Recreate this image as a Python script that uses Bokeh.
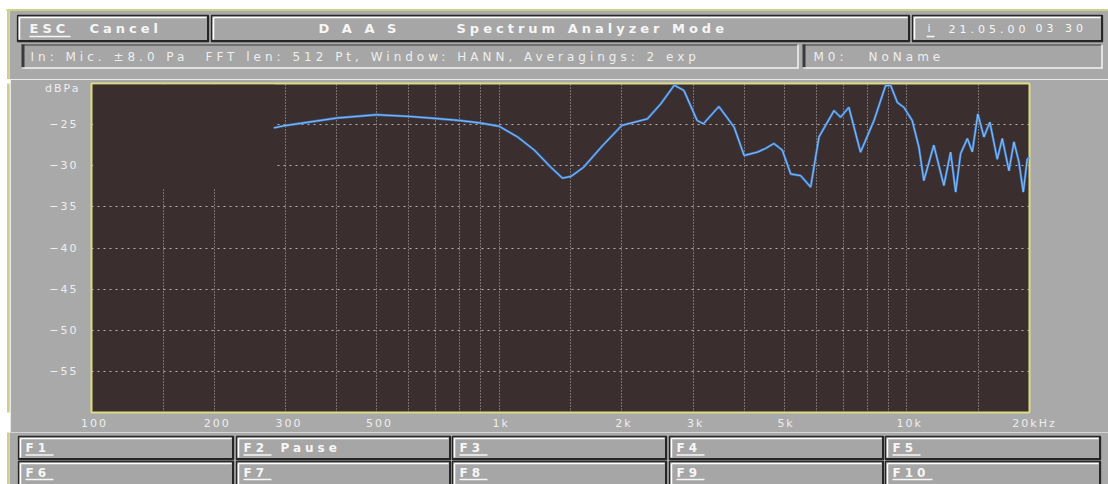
from bokeh.plotting import figure
from bokeh.layouts import column, row
from bokeh.models import Range1d, FixedTicker, BoxAnnotation, InlineStyleSheet
from bokeh.core.properties import value
from bokeh.embed import file_html
from bokeh.resources import INLINE

# ---------------- data ----------------
freq_hz = [280, 300, 400, 500, 600, 700, 800, 900, 1000, 1110, 1220, 1340, 1430, 1500,
           1610, 1790, 2000, 2310, 2490, 2690, 2840, 3060, 3170, 3460, 3770, 3990, 4300,
           4500, 4720, 4950, 5190, 5490, 5810, 6090, 6630, 6880, 7210, 7700, 8310, 8870,
           9130, 9480, 9840, 10310, 10710, 11010, 11650, 12330, 12810, 13180, 13550,
           14080, 14480, 14940, 15460, 15990, 16670, 17150, 17810, 18320, 18840, 19310,
           19750, 20000]
level_dbpa = [-25.4, -25.1, -24.2, -23.8, -24.0, -24.25, -24.5, -24.8, -25.2, -26.5, -28.1,
              -30.2, -31.5, -31.3, -30.2, -27.6, -25.1, -24.3, -22.5, -20.2, -20.85, -24.5,
              -24.9, -22.8, -25.3, -28.75, -28.35, -27.9, -27.3, -28.1, -31.0, -31.2, -32.6,
              -26.5, -23.3, -24.1, -22.9, -28.35, -24.5, -20.25, -20.25, -22.3, -22.9, -24.5,
              -27.75, -31.8, -27.5, -32.4, -28.35, -33.2, -28.55, -26.7, -28.3, -23.7, -26.5,
              -24.7, -29.2, -26.7, -30.6, -27.1, -29.55, -33.2, -29.2, -29.0]

x_tick_values = [100, 200, 300, 500, 1000, 2000, 3000, 5000, 10000, 20000]
x_tick_labels = ["100", "200", "300", "500", "1k", "2k", "3k", "5k", "10k", "20kHz"]
grid_freqs = [150, 200, 300, 400, 500, 600, 700, 800, 900, 1000, 1500, 2000, 3000, 4000,
              5000, 6000, 7000, 8000, 9000, 10000, 15000]
y_tick_values = [-55, -50, -45, -40, -35, -30, -25]
y_tick_labels = ["\u221255", "\u221250", "\u221245", "\u221240", "\u221235", "\u221230", "\u221225"]
y_unit = "dBPa"
y_unit_at = -20.6
x_range_hz = (100, 20000)
y_range_db = (-60, -20)

esc_key, esc_action = "ESC", "Cancel"
title_parts = ["D A A S", "Spectrum Analyzer Mode"]
info_key, date_text, time_text = "i", "21.05.00", "03 30"
info_parts = ["In: Mic. \u00b18.0 Pa", "FFT len: 512 Pt, Window: HANN, Averagings: 2 exp"]
marker_parts = ["M0:", "NoName"]
fkey_labels = ["F1", "F2", "F3", "F4", "F5", "F6", "F7", "F8", "F9", "F10"]
fkey_actions = ["", "Pause", "", "", "", "", "", "", "", ""]

# ---------------- style ----------------
W, H = 1108, 484
HEADER_H, MID_BOTTOM = 79, 432
FONT = "DejaVu Sans"
GREY = "#a9a9a9"
BTN = "#a6a6a6"
DARK = "#262626"
TXT = "#f6f6f6"
BG = "#3a2e2e"
FRAME_YELLOW = "#dcdc84"
EDGE_YELLOW = "#cfcf8c"
GRID = "#d2caca"
CURVE_OUT = "#3d7fd2"
CURVE_IN = "#93c2ee"

ui_css = InlineStyleSheet(css=":host { letter-spacing: 4px; }")
axis_css = InlineStyleSheet(css=":host { letter-spacing: 2px; }")


def ui_fig(x0, x1, y0, y1, sheets=None):
    f = figure(width=x1 - x0, height=y1 - y0, x_range=Range1d(x0, x1), y_range=Range1d(y1, y0),
               output_backend="svg", toolbar_location=None, tools="",
               x_axis_location=None, y_axis_location=None,
               min_border=0, min_border_left=0, min_border_right=0, min_border_top=0,
               min_border_bottom=0, background_fill_color="white", border_fill_color="white",
               outline_line_color=None, stylesheets=sheets or [])
    f.grid.visible = False
    # page chrome: grey panel with a yellowish edge at top and left
    f.quad(left=[9], right=[W], top=[10], bottom=[H], fill_color=GREY, line_color=None)
    f.segment(x0=[6], y0=[9.5], x1=[W], y1=[9.5], line_color=EDGE_YELLOW, line_width=2)
    f.segment(x0=[7.5], y0=[9], x1=[7.5], y1=[H], line_color=EDGE_YELLOW, line_width=2)
    return f


def raised(f, x0, y0, x1, y1):
    f.quad(left=[x0], right=[x1], top=[y0], bottom=[y1], fill_color=BTN, line_color=None)
    f.segment(x0=[x0 + 2, x0 + 2], y0=[y1 - 2, y0 + 2], x1=[x0 + 2, x1 - 2], y1=[y0 + 2, y0 + 2],
              line_color="white", line_width=1.5)
    f.quad(left=[x0], right=[x1], top=[y0], bottom=[y1], fill_color=None,
           line_color=DARK, line_width=1.3)
    f.segment(x0=[x0, x1 - 0.5], y0=[y1 - 0.5, y0], x1=[x1, x1 - 0.5], y1=[y1 - 0.5, y1],
              line_color=DARK, line_width=2)


def inset(f, x0, y0, x1, y1):
    f.quad(left=[x0], right=[x1], top=[y0], bottom=[y1], fill_color=BTN, line_color=None)
    f.segment(x0=[x0 + 1.5, x0], y0=[y0, y0 + 0.5], x1=[x0 + 1.5, x1], y1=[y1, y0 + 0.5],
              line_color="#3a3a3a", line_width=[3, 1.2])
    f.segment(x0=[x0, x1 - 0.5], y0=[y1 - 0.5, y0], x1=[x1, x1 - 0.5], y1=[y1 - 0.5, y1],
              line_color="#f4f4f4", line_width=1.5)


def txt(f, x, y, s, size=12, bold=False, color=TXT):
    f.text(x=[x], y=[y], text=[s], text_font=value(FONT), text_font_size=f"{size}px",
           text_font_style="bold" if bold else "normal", text_color=color,
           text_align="left", text_baseline="middle")


def uline(f, x0, x1, y):
    f.segment(x0=[x0], y0=[y], x1=[x1], y1=[y], line_color=TXT, line_width=1.3)


# ---------------- header ----------------
hdr = ui_fig(0, W, 0, HEADER_H, [ui_css])
raised(hdr, 17, 15, 208, 41)
raised(hdr, 211, 15, 909, 41)
raised(hdr, 912, 15, 1102, 41)
inset(hdr, 21, 44, 798, 68)
inset(hdr, 802, 44, 1102, 68)
txt(hdr, 29, 28, esc_key, size=13, bold=True)
uline(hdr, 29, 70, 36)
txt(hdr, 89, 28, esc_action, size=13, bold=True)
txt(hdr, 318, 28, title_parts[0], size=13, bold=True)
txt(hdr, 456, 28, title_parts[1], size=13, bold=True)
txt(hdr, 927, 28, info_key, size=11)
uline(hdr, 926, 934, 36)
txt(hdr, 948, 28, date_text, size=11)
txt(hdr, 1035, 28, time_text, size=11)
txt(hdr, 30, 56, info_parts[0], color="#eeeeee")
txt(hdr, 205, 56, info_parts[1], color="#eeeeee")
txt(hdr, 813, 56, marker_parts[0], color="#eeeeee")
txt(hdr, 868, 56, marker_parts[1], color="#eeeeee")

# ---------------- left edge of middle band ----------------
edge = ui_fig(0, 10, HEADER_H, MID_BOTTOM)

# ---------------- spectrum plot ----------------
p = figure(width=W - 10, height=MID_BOTTOM - HEADER_H, x_axis_type="log",
           x_range=Range1d(*x_range_hz), y_range=Range1d(*y_range_db),
           output_backend="svg", toolbar_location=None, tools="",
           min_border_left=81, min_border_right=79, min_border_top=4, min_border_bottom=20,
           background_fill_color=BG, border_fill_color=GREY,
           outline_line_color=FRAME_YELLOW, outline_line_width=2, stylesheets=[axis_css])

p.xaxis.ticker = FixedTicker(ticks=x_tick_values, minor_ticks=[])
p.xaxis.major_label_overrides = dict(zip(x_tick_values, x_tick_labels))
p.yaxis.ticker = FixedTicker(ticks=y_tick_values + [y_unit_at], minor_ticks=[])
p.yaxis.major_label_overrides = {**dict(zip(y_tick_values, y_tick_labels)), y_unit_at: y_unit}
for ax in (p.xaxis, p.yaxis):
    ax.axis_line_color = None
    ax.major_tick_line_color = None
    ax.minor_tick_line_color = None
    ax.major_tick_out = 0
    ax.major_tick_in = 0
    ax.major_label_text_color = "#eeeeee"
    ax.major_label_text_font = FONT
    ax.major_label_text_font_size = "11px"
p.yaxis.major_label_standoff = 19
p.xaxis.major_label_standoff = 4

p.xgrid.ticker = FixedTicker(ticks=grid_freqs)
p.ygrid.ticker = FixedTicker(ticks=y_tick_values)
p.xgrid.grid_line_dash = "1 2"
p.ygrid.grid_line_dash = "2 4"
for g in (p.xgrid, p.ygrid):
    g.grid_line_color = GRID
    g.grid_line_alpha = 0.85
    g.grid_line_width = 1

# upper-left area of the screen has no grid (kept inside the yellow frame line)
p.add_layout(BoxAnnotation(left=101, right=280, bottom=-32.8, top=-20.15,
                           fill_color=BG, fill_alpha=1.0, line_color=None, level="underlay"))

p.line(freq_hz, level_dbpa, line_color=CURVE_OUT, line_width=2.4)
p.line(freq_hz, level_dbpa, line_color=CURVE_IN, line_width=0.9)

# ---------------- footer ----------------
ftr = ui_fig(0, W, MID_BOTTOM, H, [ui_css])
cols = [(18, 233), (236, 450), (452, 666), (669, 883), (885, 1100)]
rows = [(436, 459), (461, 487)]
ul_w = {"F1": 28, "F2": 28, "F3": 28, "F4": 28, "F5": 28, "F6": 28, "F7": 28, "F8": 28,
        "F9": 28, "F10": 40}
for i, (key, act) in enumerate(zip(fkey_labels, fkey_actions)):
    r, c = divmod(i, 5)
    x0, x1 = cols[c]
    y0, y1 = rows[r]
    raised(ftr, x0, y0, x1, y1)
    yc = (y0 + y1) / 2 if r == 0 else 472
    txt(ftr, x0 + 7, yc, key, bold=True)
    uline(ftr, x0 + 7, x0 + 7 + ul_w[key], yc + 7)
    if act:
        txt(ftr, x0 + 44, yc, act, bold=True)

layout = column(hdr, row(edge, p), ftr)
open("out.html", "w").write(file_html(layout, INLINE))
